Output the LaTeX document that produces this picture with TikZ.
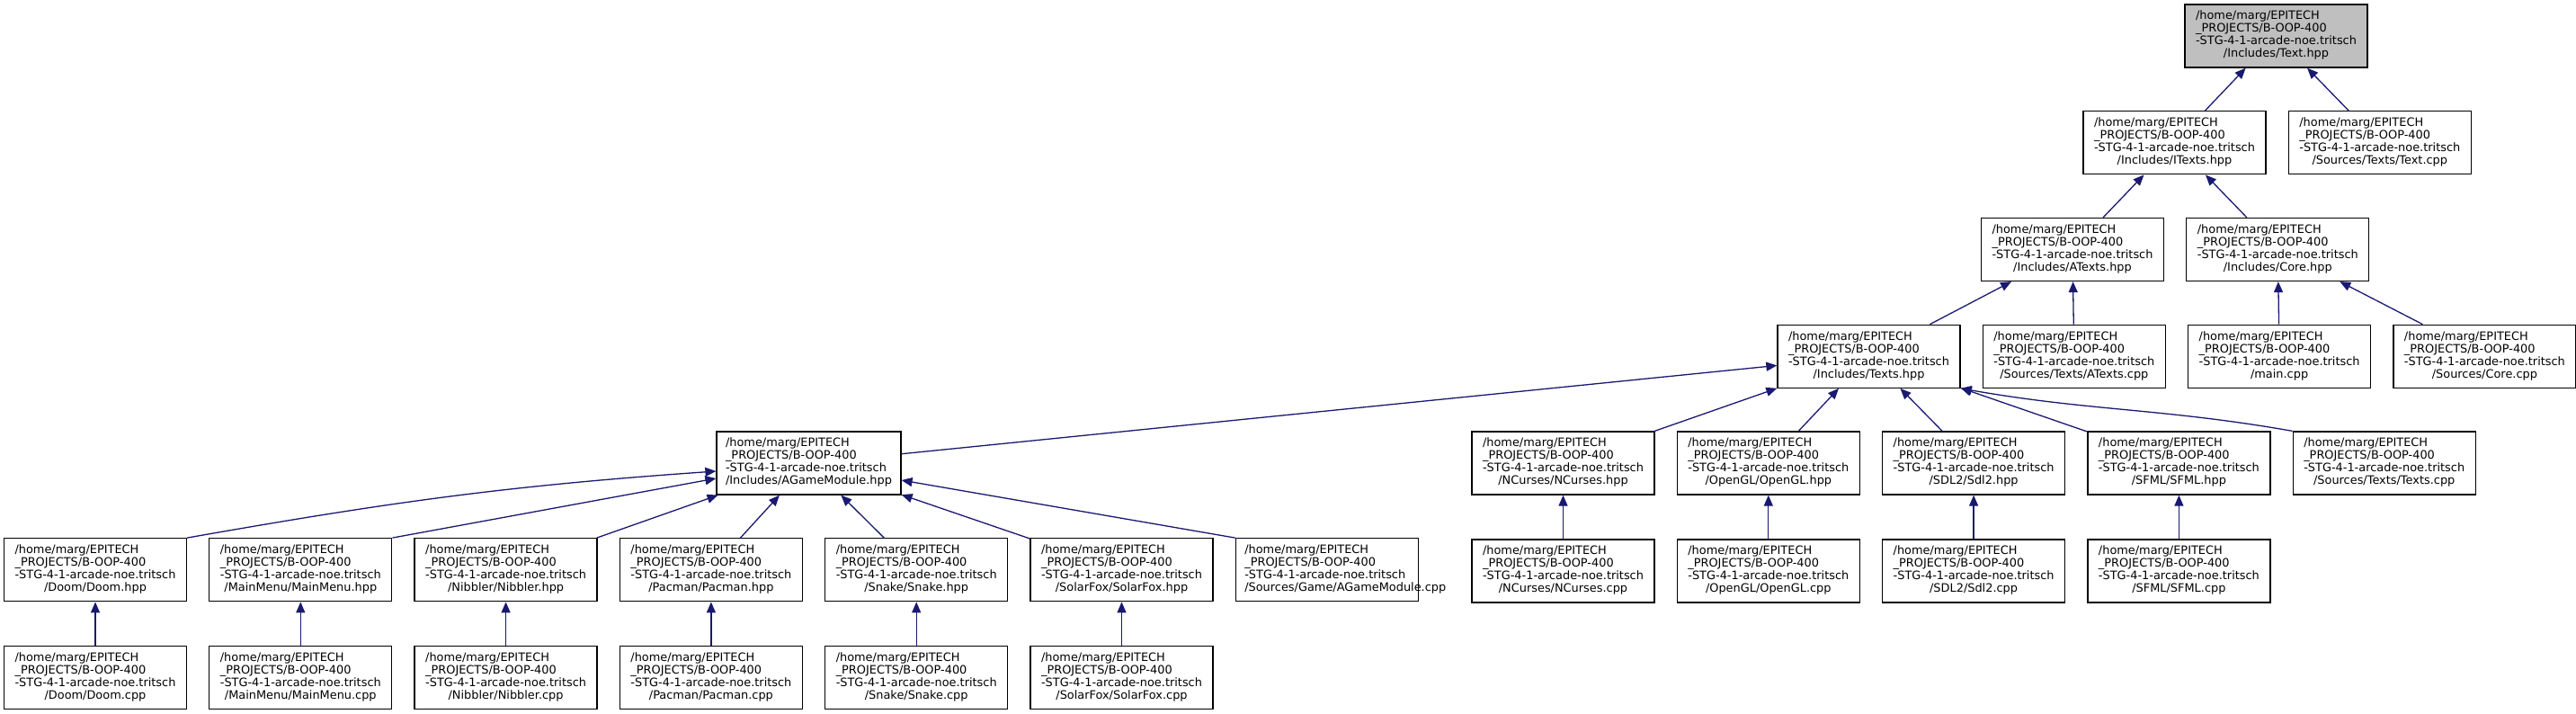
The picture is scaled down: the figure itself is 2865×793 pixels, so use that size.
\documentclass[tikz,border=0pt]{standalone}
\usepackage{fontspec}
\setmainfont{DejaVu Sans}
\definecolor{edgeblue}{RGB}{25,25,112}
\definecolor{focusgrey}{RGB}{191,191,191}
\tikzset{every picture/.style={/utils/exec={\fontsize{12.9}{14}\selectfont}}}
\usetikzlibrary{positioning}
\usetikzlibrary{arrows.meta}

\newcommand{\fpath}[2][c]{\begin{tabular}{@{}l@{}}/home/marg/EPITECH\\\_PROJECTS/B-OOP-400\\-STG-4-1-arcade-noe.tritsch\\\multicolumn{1}{@{}#1@{}}{#2}\end{tabular}}

\begin{document}
\begin{tikzpicture}[x=1pt, y=1pt,
  filebox/.style={draw, line width=1.3pt, minimum width=203pt, minimum height=70pt, inner xsep=10pt, inner ysep=0pt},
  link/.style={draw=edgeblue, line width=1.3pt, -{Triangle[length=12pt,width=10pt]}}]
  \useasboundingbox (0,0) rectangle (2865,-793);

  % headers on the right
  \node [filebox, fill=focusgrey] (texth) at (2531.5,-40) {\fpath{/Includes/Text.hpp}};
  \node [filebox] (itexts) at (2418.5,-158.75) {\fpath{/Includes/ITexts.hpp}};
  \node [filebox, right=24pt of itexts] (textcpp) {\fpath{/Sources/Texts/Text.cpp}};
  \node [filebox] (atexts) at (2305,-277.5) {\fpath{/Includes/ATexts.hpp}};
  \node [filebox, right=24pt of atexts] (core) {\fpath{/Includes/Core.hpp}};
  \node [filebox] (textsh) at (2078.5,-396.25) {\fpath{/Includes/Texts.hpp}};
  \node [filebox, right=24pt of textsh] (atextscpp) {\fpath{/Sources/Texts/ATexts.cpp}};
  \node [filebox, right=24pt of atextscpp] (maincpp) {\fpath{/main.cpp}};
  \node [filebox, right=24pt of maincpp] (corecpp) {\fpath{/Sources/Core.cpp}};

  % libraries
  \node [filebox] (ncursesh) at (1738.5,-515) {\fpath{/NCurses/NCurses.hpp}};
  \node [filebox, right=24pt of ncursesh] (openglh) {\fpath{/OpenGL/OpenGL.hpp}};
  \node [filebox, right=24pt of openglh] (sdlh) {\fpath{/SDL2/Sdl2.hpp}};
  \node [filebox, right=24pt of sdlh] (sfmlh) {\fpath{/SFML/SFML.hpp}};
  \node [filebox, right=24pt of sfmlh] (textscpp) {\fpath{/Sources/Texts/Texts.cpp}};
  \node [filebox, below=48.75pt of ncursesh] (ncursesc) {\fpath{/NCurses/NCurses.cpp}};
  \node [filebox, below=48.75pt of openglh] (openglc) {\fpath{/OpenGL/OpenGL.cpp}};
  \node [filebox, below=48.75pt of sdlh] (sdlc) {\fpath{/SDL2/Sdl2.cpp}};
  \node [filebox, below=48.75pt of sfmlh] (sfmlc) {\fpath{/SFML/SFML.cpp}};

  % games
  \node [filebox] (agm) at (899.5,-515) {\fpath{/Includes/AGameModule.hpp}};
  \node [filebox] (doomh) at (106,-633.75) {\fpath{/Doom/Doom.hpp}};
  \node [filebox, right=24pt of doomh] (menuh) {\fpath{/MainMenu/MainMenu.hpp}};
  \node [filebox, right=24pt of menuh] (nibh) {\fpath{/Nibbler/Nibbler.hpp}};
  \node [filebox, right=24pt of nibh] (pach) {\fpath{/Pacman/Pacman.hpp}};
  \node [filebox, right=24pt of pach] (snakeh) {\fpath{/Snake/Snake.hpp}};
  \node [filebox, right=24pt of snakeh] (solarh) {\fpath{/SolarFox/SolarFox.hpp}};
  \node [filebox, right=24pt of solarh] (agmcpp) {\makebox[183pt][l]{\fpath[l]{/Sources/Game/AGameModule.cpp}}};
  \node [filebox, below=48.75pt of doomh] (doomc) {\fpath{/Doom/Doom.cpp}};
  \node [filebox, below=48.75pt of menuh] (menuc) {\fpath{/MainMenu/MainMenu.cpp}};
  \node [filebox, below=48.75pt of nibh] (nibc) {\fpath{/Nibbler/Nibbler.cpp}};
  \node [filebox, below=48.75pt of pach] (pacc) {\fpath{/Pacman/Pacman.cpp}};
  \node [filebox, below=48.75pt of snakeh] (snakec) {\fpath{/Snake/Snake.cpp}};
  \node [filebox, below=48.75pt of solarh] (solarc) {\fpath{/SolarFox/SolarFox.cpp}};

  % includers of Text.hpp
  \draw [link] (itexts) -- (texth);
  \draw [link] (textcpp) -- (texth);
  \draw [link] (atexts) -- (itexts);
  \draw [link] (core) -- (itexts);
  \draw [link] (textsh) -- (atexts);
  \draw [link] (atextscpp) -- (atexts);
  \draw [link] (maincpp) -- (core);
  \draw [link] (corecpp) -- (core);

  % includers of Texts.hpp
  \draw [link] (agm) -- (textsh);
  \draw [link] (ncursesh) -- (textsh);
  \draw [link] (openglh) -- (textsh);
  \draw [link] (sdlh) -- (textsh);
  \draw [link] (sfmlh) -- (textsh);
  \draw [link] (textscpp.north west) to[out=170, in=-10] (textsh.south east);
  \draw [link] (ncursesc) -- (ncursesh);
  \draw [link] (openglc) -- (openglh);
  \draw [link] (sdlc) -- (sdlh);
  \draw [link] (sfmlc) -- (sfmlh);

  % includers of AGameModule.hpp
  \draw [link] (doomh.north east) to[out=10, in=184] ([yshift=-9pt]agm.west);
  \draw [link] (menuh.north east) -- ([yshift=-17pt]agm.west);
  \draw [link] (nibh) -- (agm);
  \draw [link] (pach) -- (agm);
  \draw [link] (snakeh) -- (agm);
  \draw [link] (solarh) -- (agm);
  \draw [link] (agmcpp.north west) -- ([yshift=-19pt]agm.east);
  \draw [link] (doomc) -- (doomh);
  \draw [link] (menuc) -- (menuh);
  \draw [link] (nibc) -- (nibh);
  \draw [link] (pacc) -- (pach);
  \draw [link] (snakec) -- (snakeh);
  \draw [link] (solarc) -- (solarh);

\end{tikzpicture}
\end{document}
